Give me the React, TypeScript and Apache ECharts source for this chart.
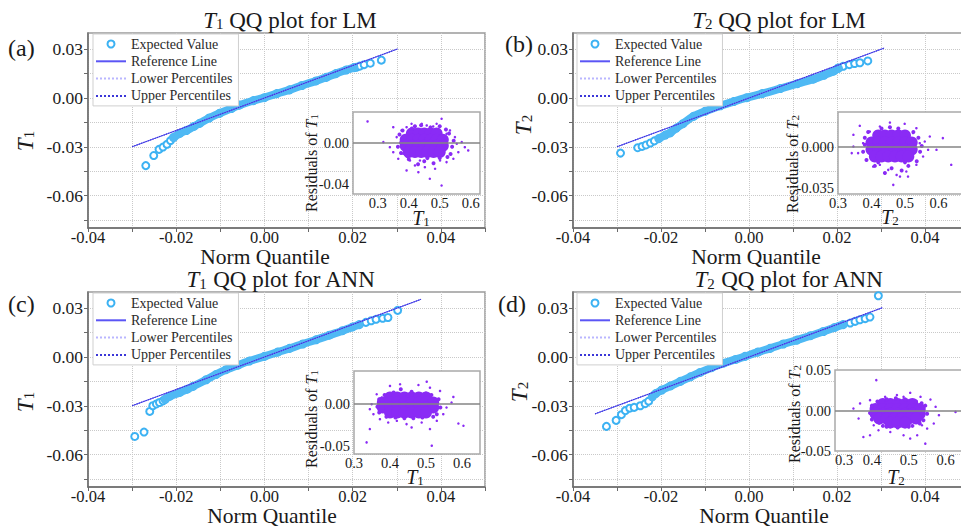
import React, { useEffect, useRef } from 'react';
import * as echarts from 'echarts';

const FONT = '"Liberation Serif", "Times New Roman", serif';

// ---------- Main QQ plots: tick values ----------
const yTickValues = [-0.075, -0.06, -0.045, -0.03, -0.015, 0, 0.015, 0.03];
const yLabelValues = [-0.06, -0.03, 0, 0.03];
const insetXLabels = [0.3, 0.4, 0.5, 0.6];

// ---------- Panel (a) T1 LM ----------
const qqBandA = [[-0.0206,-0.0243],[-0.0192,-0.0218],[-0.0177,-0.0200],[-0.016,-0.0175],[-0.0147,-0.0156],[-0.0125,-0.0123],[-0.0102,-0.0094],[-0.0075,-0.0065],[-0.0057,-0.0044],[-0.0025,-0.0016],[0,0.0002],[0.0028,0.0027],[0.0057,0.0050],[0.0085,0.0077],[0.0117,0.0105],[0.0140,0.0127],[0.0162,0.0150],[0.0185,0.0172],[0.0203,0.0187]];
const qqTailA = [[-0.0269,-0.0416],[-0.0251,-0.0354],[-0.0239,-0.0316],[-0.0230,-0.0302],[-0.0221,-0.0285],[-0.0213,-0.0262],[0.0208,0.0189],[0.0216,0.0196],[0.0226,0.0205],[0.0240,0.0214],[0.0265,0.0233]];
const refA = [[-0.030,-0.030],[0.0302,0.0302]];
const insetCoreA = [[0.41,0.009],[0.43,0.009],[0.45,0.009],[0.47,0.009],[0.49,0.009],[0.39,0.003],[0.41,0.003],[0.43,0.003],[0.45,0.003],[0.47,0.003],[0.49,0.003],[0.51,0.003],[0.39,-0.003],[0.41,-0.003],[0.43,-0.003],[0.45,-0.003],[0.47,-0.003],[0.49,-0.003],[0.51,-0.003],[0.40,-0.009],[0.42,-0.009],[0.44,-0.009],[0.46,-0.009],[0.48,-0.009],[0.50,-0.009]];
const insetEdgeA = [[0.37,0.008],[0.365,-0.004],[0.375,-0.010],[0.53,0.009],[0.54,-0.004],[0.535,-0.011],[0.42,0.016],[0.47,0.015],[0.40,-0.016],[0.45,-0.018],[0.50,-0.015],[0.38,0.012],[0.52,0.013],[0.43,-0.021],[0.48,-0.02],[0.44,0.017],[0.50,0.016],[0.375,0.0],[0.545,0.002],[0.41,0.014],[0.46,-0.015],[0.395,-0.013],[0.525,-0.014]];
const insetSparseA = [[0.267,0.0208],[0.506,0.0234],[0.49,0.0185],[0.409,0.0185],[0.35,0.0152],[0.318,0.0006],[0.339,-0.0043],[0.35,-0.0092],[0.592,-0.0075],[0.581,-0.0043],[0.56,-0.0092],[0.549,0.0055],[0.533,0.012],[0.458,0.0169],[0.377,0.012],[0.361,0.0055],[0.366,-0.0156],[0.393,-0.027],[0.42,-0.0221],[0.452,-0.0238],[0.468,-0.0351],[0.506,-0.0417],[0.485,-0.0254],[0.522,-0.0189],[0.544,-0.0156],[0.501,-0.0173],[0.436,-0.0173],[0.404,-0.0173],[0.382,-0.0107],[0.431,-0.0287],[0.522,0.0088],[0.555,-0.001],[0.571,0.0006],[0.393,0.0152],[0.479,0.0159],[0.442,0.0185]];
const insetYLabelsA = [-0.04, 0];

// ---------- Panel (b) T2 LM ----------
const qqBandB = [[-0.0205,-0.0250],[-0.0190,-0.0228],[-0.0179,-0.0214],[-0.0165,-0.0185],[-0.0150,-0.0158],[-0.0126,-0.0113],[-0.0100,-0.0082],[-0.0065,-0.0048],[-0.0035,-0.0022],[-0.0005,0.0002],[0.0030,0.0027],[0.0071,0.0058],[0.0110,0.0088],[0.0146,0.0116],[0.0170,0.0140],[0.0192,0.0165],[0.0203,0.0183]];
const qqTailB = [[-0.0292,-0.0339],[-0.0253,-0.0306],[-0.0243,-0.0298],[-0.0234,-0.0289],[-0.0224,-0.0277],[-0.0215,-0.0264],[0.0203,0.0185],[0.0214,0.0195],[0.0228,0.0205],[0.0240,0.0212],[0.0252,0.0217],[0.0270,0.0228]];
const refB = [[-0.030,-0.030],[0.0307,0.0307]];
const insetCoreB = [[0.42,0.010],[0.44,0.010],[0.46,0.010],[0.48,0.010],[0.50,0.010],[0.40,0.004],[0.42,0.004],[0.44,0.004],[0.46,0.004],[0.48,0.004],[0.50,0.004],[0.52,0.004],[0.40,-0.002],[0.42,-0.002],[0.44,-0.002],[0.46,-0.002],[0.48,-0.002],[0.50,-0.002],[0.52,-0.002],[0.41,-0.008],[0.43,-0.008],[0.45,-0.008],[0.47,-0.008],[0.49,-0.008],[0.51,-0.008]];
const insetEdgeB = [[0.38,0.008],[0.375,-0.004],[0.385,-0.011],[0.54,0.008],[0.545,-0.004],[0.535,-0.012],[0.43,0.016],[0.48,0.016],[0.41,-0.016],[0.46,-0.018],[0.51,-0.016],[0.39,0.013],[0.525,0.013],[0.44,-0.022],[0.49,-0.02],[0.38,0.002],[0.55,0.001],[0.455,0.017],[0.42,-0.013],[0.50,-0.013]];
const insetSparseB = [[0.455,0.021],[0.425,0.0176],[0.499,0.0199],[0.534,0.0162],[0.365,0.0182],[0.346,0.0105],[0.346,0.0005],[0.341,-0.0051],[0.36,-0.0051],[0.544,0.0034],[0.569,-0.0023],[0.594,-0.0023],[0.613,0.0077],[0.638,-0.0151],[0.554,-0.008],[0.534,-0.0151],[0.509,-0.0251],[0.485,-0.0251],[0.465,-0.0322],[0.45,-0.0194],[0.425,-0.0151],[0.405,-0.0166],[0.385,-0.0108],[0.504,-0.0208],[0.475,-0.0237],[0.395,0.0133],[0.524,0.012],[0.574,0.0091],[0.375,0.0034],[0.559,0.0048]];
const insetYLabelsB = [-0.035, 0];

// ---------- Panel (c) T1 ANN ----------
const qqBandC = [[-0.0225,-0.0260],[-0.0215,-0.0242],[-0.0192,-0.0218],[-0.0175,-0.0198],[-0.0162,-0.0181],[-0.0132,-0.0140],[-0.0110,-0.0108],[-0.0087,-0.0078],[-0.0060,-0.0050],[-0.0034,-0.0025],[0,0.0004],[0.0030,0.0030],[0.0057,0.0053],[0.0087,0.0080],[0.0117,0.0106],[0.0147,0.0134],[0.0177,0.0162],[0.0200,0.0185],[0.0215,0.0199]];
const qqTailC = [[-0.0294,-0.0489],[-0.0273,-0.0462],[-0.0260,-0.0335],[-0.0253,-0.0300],[-0.0245,-0.0289],[-0.0238,-0.0280],[-0.0230,-0.0270],[0.0230,0.0213],[0.0242,0.0223],[0.0253,0.0232],[0.0268,0.0238],[0.0280,0.0243],[0.0302,0.0287]];
const refC = [[-0.030,-0.030],[0.0355,0.0355]];
const insetCoreC = [[0.40,0.008],[0.42,0.008],[0.44,0.008],[0.46,0.008],[0.48,0.008],[0.50,0.008],[0.38,0.002],[0.40,0.002],[0.42,0.002],[0.44,0.002],[0.46,0.002],[0.48,0.002],[0.50,0.002],[0.52,0.002],[0.38,-0.004],[0.40,-0.004],[0.42,-0.004],[0.44,-0.004],[0.46,-0.004],[0.48,-0.004],[0.50,-0.004],[0.52,-0.004],[0.40,-0.010],[0.42,-0.010],[0.44,-0.010],[0.46,-0.010],[0.48,-0.010],[0.50,-0.010]];
const insetEdgeC = [[0.37,0.006],[0.365,-0.003],[0.37,-0.01],[0.535,0.006],[0.54,-0.004],[0.53,-0.012],[0.41,0.014],[0.46,0.015],[0.5,0.013],[0.39,-0.015],[0.44,-0.017],[0.49,-0.016],[0.52,-0.015],[0.43,0.018],[0.385,0.011],[0.515,0.011],[0.415,-0.016],[0.465,-0.017]];
const insetSparseC = [[0.4,0.022],[0.428,0.024],[0.479,0.0231],[0.502,0.0271],[0.511,0.0199],[0.363,0.012],[0.349,0],[0.344,-0.006],[0.354,-0.012],[0.372,-0.018],[0.344,-0.03],[0.335,-0.046],[0.395,-0.022],[0.446,-0.024],[0.46,-0.028],[0.488,-0.022],[0.511,-0.03],[0.516,-0.05],[0.53,-0.02],[0.548,-0.012],[0.557,-0.004],[0.576,0.0088],[0.571,0.002],[0.59,-0.0233],[0.604,-0.026],[0.539,0.016],[0.419,-0.02],[0.377,0.008]];
const insetYLabelsC = [-0.05, 0];

// ---------- Panel (d) T2 ANN ----------
const qqBandD = [[-0.0220,-0.0245],[-0.0212,-0.0225],[-0.0198,-0.0203],[-0.0178,-0.0178],[-0.0156,-0.0150],[-0.0133,-0.0122],[-0.0111,-0.0095],[-0.0085,-0.0066],[-0.0058,-0.0038],[-0.0030,-0.0015],[-0.0009,0.0004],[0.0020,0.0030],[0.0048,0.0053],[0.0078,0.0080],[0.0109,0.0104],[0.0140,0.0131],[0.0169,0.0157],[0.0195,0.0182],[0.0214,0.0199]];
const qqTailD = [[-0.0324,-0.0427],[-0.0302,-0.0390],[-0.0290,-0.0355],[-0.0281,-0.0330],[-0.0271,-0.0315],[-0.0261,-0.0310],[-0.0247,-0.0300],[-0.0236,-0.0287],[-0.0228,-0.0272],[0.0230,0.0209],[0.0241,0.0219],[0.0252,0.0229],[0.0264,0.0236],[0.0275,0.0246],[0.0294,0.0377]];
const refD = [[-0.035,-0.035],[0.0303,0.0303]];
const insetCoreD = [[0.43,0.008],[0.45,0.008],[0.47,0.008],[0.49,0.008],[0.51,0.008],[0.41,0.002],[0.43,0.002],[0.45,0.002],[0.47,0.002],[0.49,0.002],[0.51,0.002],[0.53,0.002],[0.41,-0.004],[0.43,-0.004],[0.45,-0.004],[0.47,-0.004],[0.49,-0.004],[0.51,-0.004],[0.53,-0.004],[0.42,-0.010],[0.44,-0.010],[0.46,-0.010],[0.48,-0.010],[0.50,-0.010],[0.52,-0.010],[0.45,-0.015],[0.47,-0.015],[0.49,-0.015]];
const insetEdgeD = [[0.40,0.006],[0.395,-0.003],[0.40,-0.011],[0.545,0.006],[0.55,-0.004],[0.54,-0.012],[0.44,0.014],[0.49,0.014],[0.52,0.011],[0.43,-0.019],[0.47,-0.021],[0.51,-0.019],[0.42,-0.015],[0.53,-0.016],[0.415,0.011],[0.465,0.015],[0.535,0.009],[0.44,-0.02],[0.50,-0.02]];
const insetSparseD = [[0.412,0.0375],[0.504,0.0218],[0.468,0.019],[0.436,0.0169],[0.532,0.0169],[0.368,0.0087],[0.35,0.0025],[0.364,-0.0099],[0.377,-0.0327],[0.395,-0.0306],[0.418,-0.0244],[0.45,-0.0265],[0.486,-0.0306],[0.504,-0.0347],[0.523,-0.0306],[0.545,-0.0409],[0.55,-0.0223],[0.568,-0.0161],[0.582,-0.0058],[0.573,0.0045],[0.559,0.0136],[0.627,-0.0017],[0.405,-0.0182],[0.395,0.0128],[0.486,0.0169],[0.536,-0.0182]];
const insetYLabelsD = [-0.05, 0, 0.05];

// ---------- Layout (positions only) ----------
const panels = [
  { main: { left: 88, top: 33, width: 397, height: 195 }, inset: { left: 353, top: 112, width: 127, height: 82 }, ix: [0.22, 0.63], iy: [-0.05, 0.03], iyDec: 2, alignMin: 'center',
    band: qqBandA, tail: qqTailA, ref: refA, core: insetCoreA, edge: insetEdgeA, sparse: insetSparseA, iyLabels: insetYLabelsA,
    legend: { left: 93, top: 34 }, title: { x: 290, y: 20, sub: '1', rest: ' QQ plot for LM' }, tag: { t: '(a)', x: 8, y: 48 },
    yName: { x: 25, y: 141 }, xName: { x: 265, y: 257 }, iyName: { x: 311, y: 163 }, ixName: { x: 421, y: 218 } },
  { main: { left: 573, top: 33, width: 396, height: 195 }, inset: { left: 838, top: 112, width: 134, height: 82 }, ix: [0.3, 0.7], iy: [-0.04, 0.03], iyDec: 3, alignMin: 'center',
    band: qqBandB, tail: qqTailB, ref: refB, core: insetCoreB, edge: insetEdgeB, sparse: insetSparseB, iyLabels: insetYLabelsB,
    legend: { left: 577, top: 34 }, title: { x: 779, y: 20, sub: '2', rest: ' QQ plot for LM' }, tag: { t: '(b)', x: 505, y: 44 },
    yName: { x: 523, y: 125 }, xName: { x: 756, y: 257 }, iyName: { x: 792, y: 164 }, ixName: { x: 890, y: 217 } },
  { main: { left: 88, top: 292, width: 397, height: 195 }, inset: { left: 354, top: 371, width: 126, height: 83 }, ix: [0.3, 0.65], iy: [-0.06, 0.04], iyDec: 2, alignMin: 'center',
    band: qqBandC, tail: qqTailC, ref: refC, core: insetCoreC, edge: insetEdgeC, sparse: insetSparseC, iyLabels: insetYLabelsC,
    legend: { left: 93, top: 293 }, title: { x: 281, y: 279.5, sub: '1', rest: ' QQ plot for ANN' }, tag: { t: '(c)', x: 8, y: 304 },
    yName: { x: 25, y: 402 }, xName: { x: 272, y: 516 }, iyName: { x: 311, y: 419 }, ixName: { x: 415, y: 477 } },
  { main: { left: 573, top: 292, width: 396, height: 195 }, inset: { left: 835, top: 370, width: 129, height: 81 }, ix: [0.3, 0.65], iy: [-0.05, 0.05], iyDec: 2, alignMin: 'left',
    band: qqBandD, tail: qqTailD, ref: refD, core: insetCoreD, edge: insetEdgeD, sparse: insetSparseD, iyLabels: insetYLabelsD,
    legend: { left: 577, top: 293 }, title: { x: 789, y: 279.5, sub: '2', rest: ' QQ plot for ANN' }, tag: { t: '(d)', x: 498, y: 304 },
    yName: { x: 519, y: 392 }, xName: { x: 764, y: 516 }, iyName: { x: 794, y: 414 }, ixName: { x: 896, y: 477 } },
];

const TEXT = '#1a1a1a';
const CIRCLE = '#3cb2f3';
const BAND = '#4fb9f4';
const PURPLE = '#8a2bf5';

function rich(size: number, subSize: number) {
  return {
    i: { fontFamily: FONT, fontStyle: 'italic', fontSize: size, lineHeight: size, fill: TEXT },
    s: { fontFamily: FONT, fontSize: subSize, lineHeight: subSize, verticalAlign: 'bottom', fill: TEXT },
    n: { fontFamily: FONT, fontSize: size, lineHeight: size, fill: TEXT },
  };
}

function richText(x: number, y: number, text: string, size: number, subSize: number, rotation = 0) {
  return {
    type: 'text', x, y, rotation, z: 10,
    style: { text, rich: rich(size, subSize), align: 'center', verticalAlign: 'middle', fontFamily: FONT, fontSize: size, fill: TEXT },
  };
}

function buildOption() {
  const grid: any[] = [];
  const xAxis: any[] = [];
  const yAxis: any[] = [];
  const series: any[] = [];
  const legend: any[] = [];
  const graphic: any[] = [];

  panels.forEach((p, i) => {
    grid[i] = { ...p.main, show: true, borderColor: '#9a9a9a', borderWidth: 1.5, outerBoundsMode: 'none', containLabel: false };
    grid[4 + i] = { ...p.inset, show: false, outerBoundsMode: 'none', containLabel: false };

    xAxis[i] = {
      type: 'value', gridIndex: i, min: -0.04, max: 0.05, interval: 0.01,
      axisLine: { show: true, onZero: false, lineStyle: { color: '#6a6a6a', width: 1.5 } },
      axisTick: { show: true, length: 4, lineStyle: { color: '#6a6a6a' } },
      axisLabel: {
        fontFamily: FONT, fontSize: 16.5, color: TEXT, margin: 1, lineHeight: 16,
        formatter: (v: number) => { const k = Math.round(v * 100); return k % 2 === 0 ? (k / 100).toFixed(2) : ''; },
      },
      splitLine: { show: true, lineStyle: { type: 'dotted', color: '#c9c9c9', width: 1 } },
    };
    yAxis[i] = {
      type: 'value', gridIndex: i, min: -0.08, max: 0.04,
      axisLine: { show: true, onZero: false, lineStyle: { color: '#6a6a6a', width: 1.5 } },
      axisTick: { show: true, length: 4, customValues: yTickValues, lineStyle: { color: '#6a6a6a' } },
      axisLabel: { fontFamily: FONT, fontSize: 17.5, color: TEXT, margin: 5, customValues: yLabelValues, formatter: (v: number) => v.toFixed(2) },
      splitLine: { show: true, lineStyle: { type: 'dotted', color: '#c9c9c9', width: 1 } },
    };
    xAxis[4 + i] = {
      type: 'value', gridIndex: 4 + i, min: p.ix[0], max: p.ix[1], z: 6,
      axisLine: { show: false, onZero: false }, axisTick: { show: false }, splitLine: { show: false },
      axisLabel: { fontFamily: FONT, fontSize: 14.5, color: TEXT, margin: 2, lineHeight: 14, alignMinLabel: p.alignMin, customValues: insetXLabels, formatter: (v: number) => v.toFixed(1) },
    };
    yAxis[4 + i] = {
      type: 'value', gridIndex: 4 + i, min: p.iy[0], max: p.iy[1], z: 6,
      axisLine: { show: false, onZero: false }, axisTick: { show: false }, splitLine: { show: false },
      axisLabel: { fontFamily: FONT, fontSize: 14.5, color: TEXT, margin: 4, lineHeight: 12, customValues: p.iyLabels, formatter: (v: number) => v.toFixed(p.iyDec) },
    };

    series.push({
      name: 'Expected Value', type: 'scatter', xAxisIndex: i, yAxisIndex: i, z: 2, silent: true,
      symbol: 'emptyCircle', symbolSize: 7, itemStyle: { color: CIRCLE, borderColor: CIRCLE, borderWidth: 1.1, opacity: 1 },
      data: p.tail.concat(p.band),
    });
    series.push({
      name: 'band' + i, type: 'line', xAxisIndex: i, yAxisIndex: i, z: 3, silent: true, symbol: 'none', smooth: true,
      lineStyle: { color: BAND, width: 8, cap: 'round' }, data: p.band,
    });
    series.push({
      name: 'Lower Percentiles', type: 'line', xAxisIndex: i, yAxisIndex: i, z: 4, silent: true, symbol: 'none',
      lineStyle: { color: '#b9b6ff', width: 1, type: 'dotted' }, itemStyle: { color: '#b9b6ff' }, data: p.ref,
    });
    series.push({
      name: 'Reference Line', type: 'line', xAxisIndex: i, yAxisIndex: i, z: 4, silent: true, symbol: 'none',
      lineStyle: { color: '#5b55f5', width: 1 }, itemStyle: { color: '#5b55f5' }, data: p.ref,
    });
    series.push({
      name: 'Upper Percentiles', type: 'line', xAxisIndex: i, yAxisIndex: i, z: 4, silent: true, symbol: 'none',
      lineStyle: { color: '#3b36d8', width: 1.2, type: 'dotted' }, itemStyle: { color: '#3b36d8' }, data: p.ref,
    });

    series.push({
      name: 'core' + i, type: 'scatter', xAxisIndex: 4 + i, yAxisIndex: 4 + i, z: 6, silent: true,
      symbolSize: 12, itemStyle: { color: PURPLE, opacity: 1 }, data: p.core,
    });
    series.push({
      name: 'edge' + i, type: 'scatter', xAxisIndex: 4 + i, yAxisIndex: 4 + i, z: 6, silent: true,
      symbolSize: 4, itemStyle: { color: PURPLE, opacity: 1 }, data: p.edge,
    });
    series.push({
      name: 'sparse' + i, type: 'scatter', xAxisIndex: 4 + i, yAxisIndex: 4 + i, z: 6, silent: true,
      symbolSize: 2.5, itemStyle: { color: PURPLE, opacity: 1 }, data: p.sparse,
      markLine: {
        silent: true, symbol: ['none', 'none'], label: { show: false }, z: 7,
        lineStyle: { color: '#858585', width: 1.5, type: 'solid' }, emphasis: { disabled: true },
        data: [{ yAxis: 0 }],
      },
    });

    legend.push({
      orient: 'vertical', left: p.legend.left, top: p.legend.top, itemWidth: 30, itemHeight: 7, itemGap: 3.3,
      padding: [3, 6, 3, 2], backgroundColor: '#fff', borderColor: '#cfcfcf', borderWidth: 1, selectedMode: false,
      textStyle: { fontFamily: FONT, fontSize: 14, color: '#2a2a2a', lineHeight: 14 },
      data: [
        { name: 'Expected Value', icon: 'emptyCircle' },
        { name: 'Reference Line', itemStyle: { opacity: 0 } },
        { name: 'Lower Percentiles', itemStyle: { opacity: 0 } },
        { name: 'Upper Percentiles', itemStyle: { opacity: 0 } },
      ],
    });

    graphic.push({
      type: 'rect', z: 1, silent: true,
      shape: { x: p.inset.left, y: p.inset.top, width: p.inset.width, height: p.inset.height },
      style: { fill: '#fff', stroke: '#a9a9a9', lineWidth: 1.5 },
    });
    graphic.push(richText(p.title.x, p.title.y, `{i|T}{s|${p.title.sub}}{n|${p.title.rest}}`, 23, 15));
    graphic.push({ type: 'text', x: p.tag.x, y: p.tag.y, z: 10, style: { text: p.tag.t, fontFamily: FONT, fontSize: 24, fill: TEXT, align: 'left', verticalAlign: 'middle' } });
    graphic.push(richText(p.yName.x, p.yName.y, `{i|T}{s|${p.title.sub}}`, 23, 15, Math.PI / 2));
    graphic.push({ type: 'text', x: p.xName.x, y: p.xName.y, z: 10, style: { text: 'Norm Quantile', fontFamily: FONT, fontSize: 21.5, lineHeight: 21, fill: TEXT, align: 'center', verticalAlign: 'middle' } });
    graphic.push(richText(p.iyName.x, p.iyName.y, `{n|Residuals of }{i|T}{s|${p.title.sub}}`, 16, 11, Math.PI / 2));
    graphic.push(richText(p.ixName.x, p.ixName.y, `{i|T}{s|${p.title.sub}}`, 20, 13));
  });

  return { animation: false, backgroundColor: '#fff', grid, xAxis, yAxis, series, legend, graphic };
}

export default function App() {
  const ref = useRef<HTMLDivElement>(null);
  useEffect(() => {
    if (!ref.current) return;
    const chart = echarts.init(ref.current, undefined, { renderer: 'svg' });
    chart.setOption(buildOption() as any);
    return () => chart.dispose();
  }, []);
  return (
    <div style={{ position: 'fixed', left: 0, top: 0, width: 961, height: 527, overflow: 'hidden', background: '#fff' }}>
      <div ref={ref} style={{ width: 961, height: 527 }} />
    </div>
  );
}
